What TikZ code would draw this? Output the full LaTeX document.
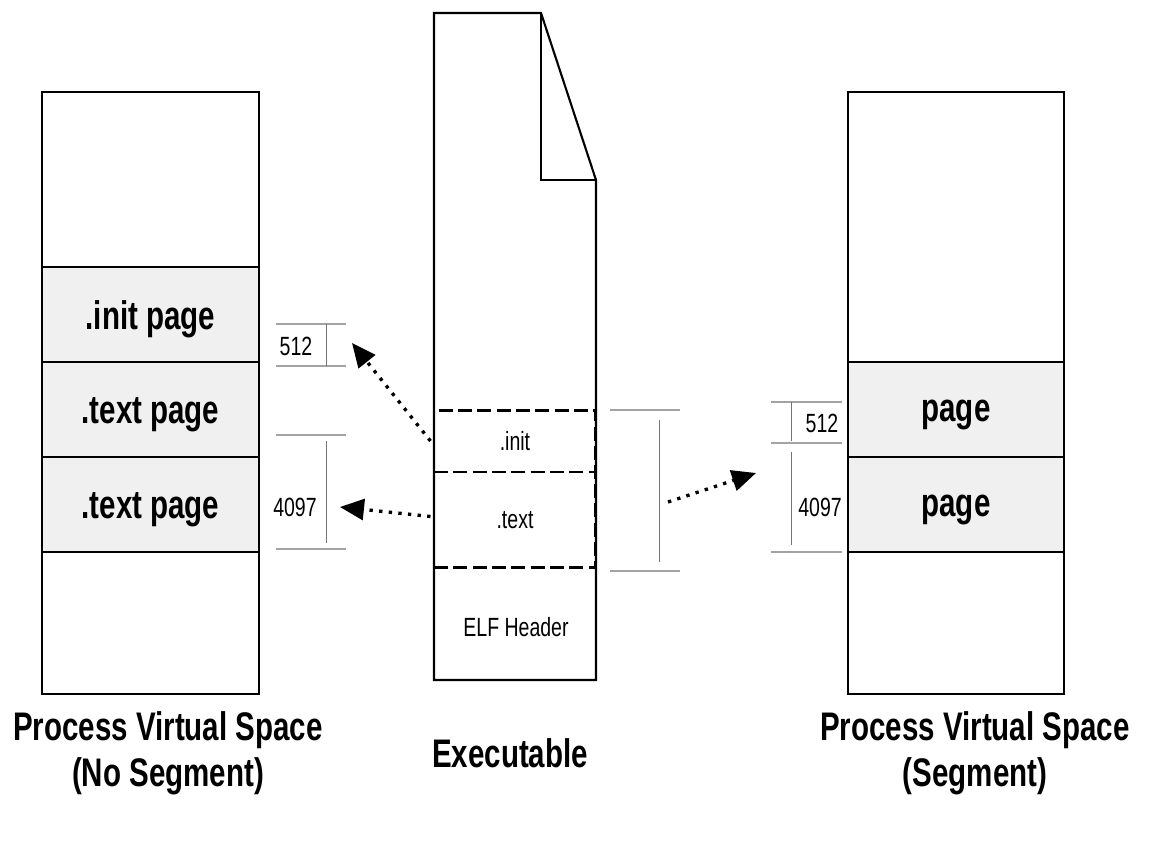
\documentclass[tikz,border=0pt]{standalone}
\usepackage{fontspec}
\setmainfont{Liberation Sans}[FakeStretch=0.74]
\usetikzlibrary{arrows.meta, positioning}
\definecolor{pagefill}{gray}{0.94}
\definecolor{rulegray}{gray}{0.64}
\definecolor{tickgray}{gray}{0.45}
\newcommand{\lowerlbl}[1]{\raisebox{-3pt}[\height][\depth]{#1}}

\begin{document}
\begin{tikzpicture}[
    x=0.02cm, y=-0.02cm,
    every node/.style={font=\fontsize{15}{17}\selectfont},
    sect/.style={draw, line width=1.2pt, outer sep=0pt, inner sep=0pt, minimum width=4.34cm, font=\fontsize{22.7}{26}\selectfont\bfseries},
    page/.style={sect, fill=pagefill},
    exesect/.style={draw, dashed, dash pattern=on 8pt off 3pt, line width=1.7pt, outer sep=0pt, inner sep=0pt, minimum width=3.24cm},
    rule/.style={rulegray, line width=1.6pt},
    tick/.style={tickgray, line width=0.5pt},
    arrow/.style={-{Triangle[length=0.48cm, width=0.42cm]}, line width=1.9pt, dash pattern=on 1.9pt off 3.6pt},
    caption/.style={align=center, font=\fontsize{22.7}{26}\selectfont\bfseries}
  ]
    \useasboundingbox (0,0) rectangle (1156,856);

    % left: no segment
    \node[sect, minimum height=3.5cm, anchor=north west] (lTop) at (42,92) {};
    \node[page, minimum height=1.9cm, below=0pt of lTop]   (lInit)  {\lowerlbl{.init page}};
    \node[page, minimum height=1.9cm, below=0pt of lInit]  (lText1) {\lowerlbl{.text page}};
    \node[page, minimum height=1.9cm, below=0pt of lText1] (lText2) {\lowerlbl{.text page}};
    \node[sect, minimum height=2.84cm, below=0pt of lText2] (lBot) {};

    % right: segment
    \node[sect, minimum width=4.32cm, minimum height=5.4cm, anchor=north west] (rTop) at (848,92) {};
    \node[page, minimum width=4.32cm, minimum height=1.9cm, below=0pt of rTop]   (rPage1) {\lowerlbl{page}};
    \node[page, minimum width=4.32cm, minimum height=1.9cm, below=0pt of rPage1] (rPage2) {\lowerlbl{page}};
    \node[sect, minimum width=4.32cm, minimum height=2.84cm, below=0pt of rPage2] (rBot) {};

    % executable file
    \draw[line width=1.2pt, line join=miter] (434,680) -- (434,13) -- (541,13) -- (596,180) -- (596,680) -- cycle;
    \draw[line width=1.2pt] (541,13) -- (541,180) -- (596,180);
    \node[exesect, minimum height=1.24cm, anchor=north west] (exeInit) at (434,410) {.init};
    \node[exesect, minimum height=1.92cm, below=0pt of exeInit] (exeText) {.text};
    \node (exeHdr) at (516,627) {ELF Header};

    % sizes
    \draw[rule] (276,324) -- (346,324);
    \draw[rule] (276,366) -- (346,366);
    \draw[tick] (326,324) -- (326,366);
    \node (l512) at (296,346) {512};
    \draw[rule] (276,435) -- (346,435);
    \draw[rule] (276,549) -- (346,549);
    \draw[tick] (326,441) -- (326,543);
    \node (l4097) at (295,507) {4097};

    \draw[rule] (610,410) -- (680,410);
    \draw[rule] (610,571) -- (680,571);
    \draw[tick] (659,420) -- (659,562);

    \draw[rule] (771,402) -- (842,402);
    \draw[rule] (771,443) -- (842,443);
    \draw[tick] (791,402) -- (791,441);
    \node (r512) at (822,423) {512};
    \draw[rule] (771,552) -- (842,552);
    \draw[tick] (791,452) -- (791,545);
    \node (r4097) at (820,507) {4097};

    % mappings
    \coordinate (toL512) at (352,343);
    \coordinate (toL4097) at (340,507);
    \coordinate (fromSeg) at (668,502);
    \coordinate (toSeg) at (756,473);
    \draw[arrow] ([xshift=-2pt]exeInit.west) -- (toL512);
    \draw[arrow] ([xshift=-2pt, yshift=2pt]exeText.west) -- (toL4097);
    \draw[arrow] (fromSeg) -- (toSeg);

    % captions
    \node[caption] (capL) at (168,753) {Process Virtual Space\\(No Segment)};
    \node[caption] (capM) at (510,753) {Executable};
    \node[caption] (capR) at (975,753) {Process Virtual Space\\(Segment)};

  \end{tikzpicture}
\end{document}
